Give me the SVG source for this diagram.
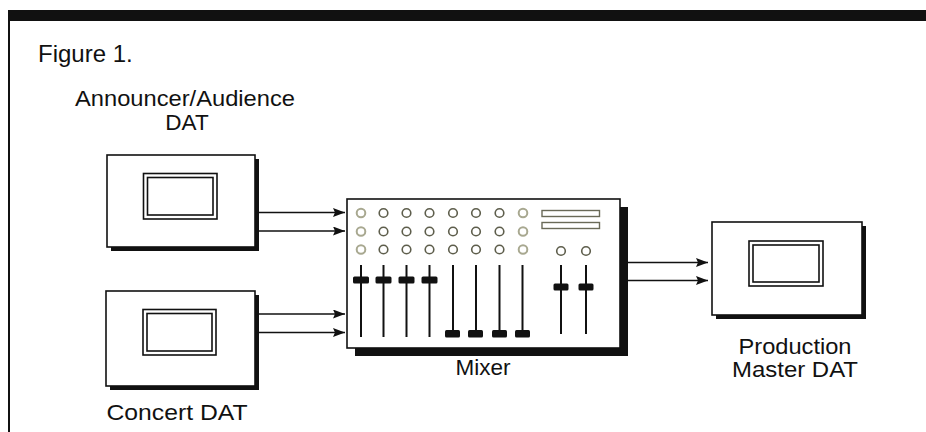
<svg xmlns="http://www.w3.org/2000/svg" width="926" height="432" viewBox="0 0 926 432">
  <style>
    .txt { font-family: "Liberation Sans", Arial, Helvetica, sans-serif; font-size: 22.5px; fill: #111; }
    .box { fill: #fff; stroke: #111; stroke-width: 1.6; }
    .shadow { fill: #111; }
    .scr { fill: #fff; stroke: #111; stroke-width: 1.6; }
    .conn { stroke: #111; stroke-width: 1.6; fill: none; }
    .knob { fill: #fff; stroke: #5e5e4c; stroke-width: 1.6; }
    .knobl { fill: #fff; stroke: #a8a890; stroke-width: 2; }
    .fader { stroke: #111; stroke-width: 2; }
    .cap { fill: #111; }
    .bar { fill: #fff; stroke: #6a6a58; stroke-width: 1.4; }
  </style>
  <defs>
    <marker id="arr" markerUnits="userSpaceOnUse" markerWidth="13" markerHeight="10" refX="12" refY="4.5" orient="auto">
      <path d="M0,0 L12,4.5 L0,9 L2,4.5 z" fill="#111"/>
    </marker>
  </defs>
  <rect width="926" height="432" fill="#fff"/>
  <!-- frame -->
  <rect x="8" y="10" width="918" height="11" fill="#111"/>
  <rect x="8" y="10" width="2" height="422" fill="#111"/>
  <text class="txt" x="38" y="62" style="font-size:24px">Figure 1.</text>

  <g id="announcer-dat">
    <rect class="shadow" x="111" y="159" width="148" height="92"/>
    <rect class="box" x="107" y="155" width="148" height="92"/>
    <rect class="scr" x="143.5" y="173.5" width="73.5" height="45.5"/>
    <rect class="scr" x="147.5" y="177.5" width="65.5" height="37.5"/>
    <text class="txt" x="185" y="106" text-anchor="middle" textLength="220" lengthAdjust="spacingAndGlyphs">Announcer/Audience</text>
    <text class="txt" x="187" y="130" text-anchor="middle">DAT</text>
  </g>

  <g id="concert-dat">
    <rect class="shadow" x="110" y="295" width="149" height="95"/>
    <rect class="box" x="106" y="291" width="149" height="95"/>
    <rect class="scr" x="143" y="309.5" width="73" height="45.5"/>
    <rect class="scr" x="147" y="313.5" width="65" height="37.5"/>
    <text class="txt" x="177" y="420" text-anchor="middle" textLength="141" lengthAdjust="spacingAndGlyphs">Concert DAT</text>
  </g>

  <g id="mixer">
    <rect class="shadow" x="355" y="207" width="273" height="149"/>
    <rect class="box" x="347" y="199" width="273" height="149"/>
    <!-- knobs -->
    <g>
      <circle class="knobl" cx="361" cy="213" r="4.3"/>
      <circle class="knobl" cx="361" cy="231.5" r="4.3"/>
      <circle class="knobl" cx="361" cy="249.5" r="4.3"/>
      <circle class="knob" cx="383.5" cy="213" r="4.3"/>
      <circle class="knob" cx="383.5" cy="231.5" r="4.3"/>
      <circle class="knob" cx="383.5" cy="249.5" r="4.3"/>
      <circle class="knob" cx="406.5" cy="213" r="4.3"/>
      <circle class="knob" cx="406.5" cy="231.5" r="4.3"/>
      <circle class="knob" cx="406.5" cy="249.5" r="4.3"/>
      <circle class="knob" cx="429.5" cy="213" r="4.3"/>
      <circle class="knob" cx="429.5" cy="231.5" r="4.3"/>
      <circle class="knob" cx="429.5" cy="249.5" r="4.3"/>
      <circle class="knob" cx="453" cy="213" r="4.3"/>
      <circle class="knob" cx="453" cy="231.5" r="4.3"/>
      <circle class="knob" cx="453" cy="249.5" r="4.3"/>
      <circle class="knob" cx="476" cy="213" r="4.3"/>
      <circle class="knob" cx="476" cy="231.5" r="4.3"/>
      <circle class="knob" cx="476" cy="249.5" r="4.3"/>
      <circle class="knob" cx="499.5" cy="213" r="4.3"/>
      <circle class="knob" cx="499.5" cy="231.5" r="4.3"/>
      <circle class="knob" cx="499.5" cy="249.5" r="4.3"/>
      <circle class="knobl" cx="523" cy="213" r="4.3"/>
      <circle class="knobl" cx="523" cy="231.5" r="4.3"/>
      <circle class="knobl" cx="523" cy="249.5" r="4.3"/>
      <circle class="knob" cx="561" cy="251" r="4.3"/>
      <circle class="knob" cx="586" cy="251" r="4.3"/>
    </g>
    <rect class="bar" x="542" y="210.5" width="57.5" height="6"/>
    <rect class="bar" x="542" y="222.5" width="57.5" height="6"/>
    <!-- faders -->
    <g>
      <line class="fader" x1="361" y1="265" x2="361" y2="337"/>
      <line class="fader" x1="383.5" y1="265" x2="383.5" y2="337"/>
      <line class="fader" x1="406.5" y1="265" x2="406.5" y2="337"/>
      <line class="fader" x1="429.5" y1="265" x2="429.5" y2="337"/>
      <line class="fader" x1="453" y1="265" x2="453" y2="337"/>
      <line class="fader" x1="476" y1="265" x2="476" y2="337"/>
      <line class="fader" x1="499.5" y1="265" x2="499.5" y2="337"/>
      <line class="fader" x1="522.5" y1="265" x2="522.5" y2="337"/>
      <line class="fader" x1="561" y1="265" x2="561" y2="334"/>
      <line class="fader" x1="586" y1="265" x2="586" y2="334"/>
      <rect class="cap" x="353" y="276.5" width="16" height="7" rx="1.5"/>
      <rect class="cap" x="375.5" y="276.5" width="16" height="7" rx="1.5"/>
      <rect class="cap" x="398.5" y="276.5" width="16" height="7" rx="1.5"/>
      <rect class="cap" x="421.5" y="276.5" width="16" height="7" rx="1.5"/>
      <rect class="cap" x="445" y="330" width="15" height="7.5" rx="1.5"/>
      <rect class="cap" x="468" y="330" width="15" height="7.5" rx="1.5"/>
      <rect class="cap" x="492" y="330" width="15" height="7.5" rx="1.5"/>
      <rect class="cap" x="515" y="330" width="15" height="7.5" rx="1.5"/>
      <rect class="cap" x="553.5" y="283.5" width="15" height="7" rx="1.5"/>
      <rect class="cap" x="578.5" y="283.5" width="15" height="7" rx="1.5"/>
    </g>
    <text class="txt" x="483" y="375" text-anchor="middle">Mixer</text>
  </g>

  <g id="production-master-dat">
    <rect class="shadow" x="716" y="226" width="150" height="93"/>
    <rect class="box" x="712" y="222" width="150" height="93"/>
    <rect class="scr" x="749" y="241" width="74" height="45"/>
    <rect class="scr" x="753" y="245" width="66" height="37"/>
    <text class="txt" x="795" y="354" text-anchor="middle" textLength="113" lengthAdjust="spacingAndGlyphs">Production</text>
    <text class="txt" x="795" y="377" text-anchor="middle" textLength="126" lengthAdjust="spacingAndGlyphs">Master DAT</text>
  </g>

  <g id="connectors">
    <line class="conn" x1="259" y1="212.5" x2="345" y2="212.5" marker-end="url(#arr)"/>
    <line class="conn" x1="259" y1="231" x2="345" y2="231" marker-end="url(#arr)"/>
    <line class="conn" x1="259" y1="314" x2="345" y2="314" marker-end="url(#arr)"/>
    <line class="conn" x1="259" y1="332.5" x2="345" y2="332.5" marker-end="url(#arr)"/>
    <line class="conn" x1="628" y1="262.5" x2="708" y2="262.5" marker-end="url(#arr)"/>
    <line class="conn" x1="628" y1="280.5" x2="708" y2="280.5" marker-end="url(#arr)"/>
  </g>
</svg>
